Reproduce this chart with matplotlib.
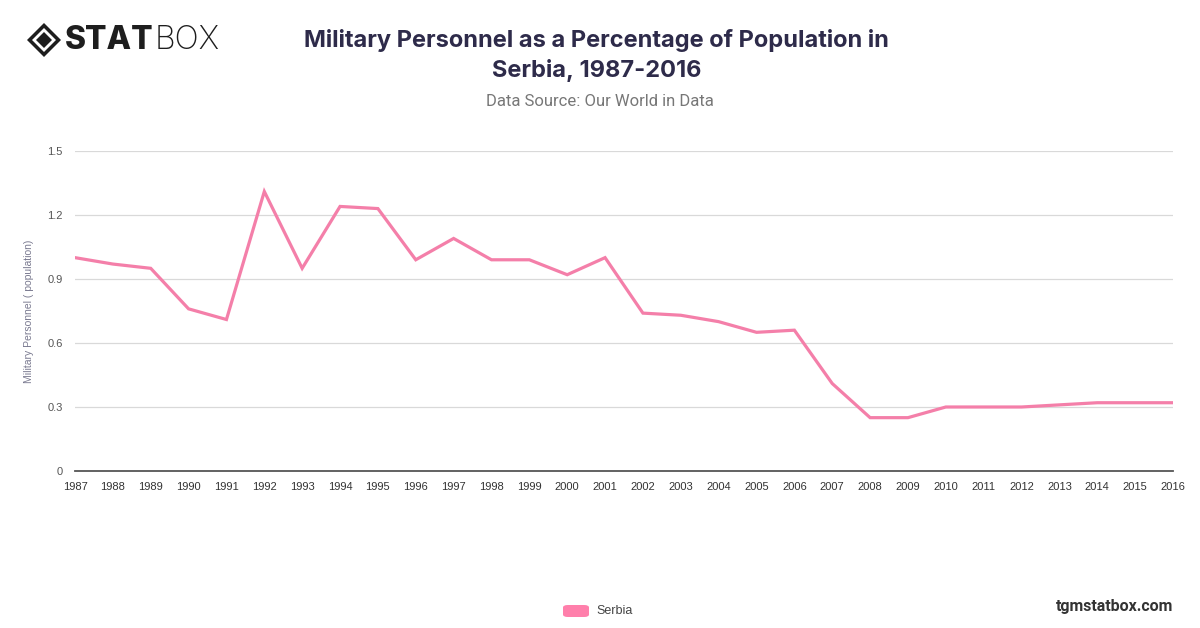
import matplotlib.pyplot as plt
from matplotlib.patches import Polygon, FancyBboxPatch

# data
years = list(range(1987, 2017))
serbia = [1.00, 0.97, 0.95, 0.76, 0.71, 1.31, 0.95, 1.24, 1.23, 0.99,
          1.09, 0.99, 0.99, 0.92, 1.00, 0.74, 0.73, 0.70, 0.65, 0.66,
          0.41, 0.25, 0.25, 0.30, 0.30, 0.30, 0.31, 0.32, 0.32, 0.32]
yticks = [0, 0.3, 0.6, 0.9, 1.2, 1.5]

pink = '#f47fa9'
plt.rcParams['font.family'] = ['Inter', 'DejaVu Sans']

fig = plt.figure(figsize=(12, 6.28), dpi=100)
ax = fig.add_axes([0.0625, 0.25, 0.915, 0.5096])

ax.plot(years, serbia, color=pink, linewidth=2.3, solid_joinstyle='miter')

ax.set_xlim(1987, 2016)
ax.set_ylim(0, 1.5)
ax.set_xticks(years)
ax.set_xticklabels([str(y) for y in years], fontsize=8, color='#333333',
                   family=['Liberation Sans', 'DejaVu Sans'])
ax.set_yticks(yticks)
ax.set_yticklabels(['0', '0.3', '0.6', '0.9', '1.2', '1.5'], fontsize=8,
                   color='#555555', family=['Liberation Sans', 'DejaVu Sans'])
ax.tick_params(axis='x', length=0, pad=8)
ax.tick_params(axis='y', length=0, pad=9)
ax.grid(axis='y', color='#d9d9d9', linewidth=0.9)
ax.set_axisbelow(True)
for s in ['top', 'right', 'left']:
    ax.spines[s].set_visible(False)
ax.spines['bottom'].set_color('#555555')
ax.spines['bottom'].set_linewidth(1.3)

ax.set_ylabel('Military Personnel ( population)', fontsize=7.5, color='#7a7a90',
              family=['Liberation Sans', 'DejaVu Sans'], labelpad=9)

# titles
fig.text(0.497, 0.935, 'Military Personnel as a Percentage of Population in',
         ha='center', va='center', fontsize=17, fontweight='bold', color='#2e2b4a')
fig.text(0.497, 0.887, 'Serbia, 1987-2016',
         ha='center', va='center', fontsize=17, fontweight='bold', color='#2e2b4a')
fig.text(0.5, 0.838, 'Data Source: Our World in Data', ha='center', va='center',
         fontsize=12, color='#777777', family=['Roboto', 'DejaVu Sans'])

# logo
cx, cy = 44 / 1200, 1 - 40 / 628
def diamond(rad, color):
    pts = [(cx - rad / 1200, cy), (cx, cy + rad / 628), (cx + rad / 1200, cy), (cx, cy - rad / 628)]
    fig.patches.append(Polygon(pts, closed=True, transform=fig.transFigure,
                               facecolor=color, edgecolor='none'))
diamond(17, '#1e1e1e')
diamond(12, 'white')
diamond(8, '#1e1e1e')
fig.text(0.054, 0.936, 'STAT', ha='left', va='center', fontsize=23,
         fontweight='heavy', color='#1e1e1e')
fig.text(0.129, 0.936, 'BOX', ha='left', va='center', fontsize=23,
         fontweight='light', color='#1e1e1e')

# legend
fig.patches.append(FancyBboxPatch((563 / 1200, 1 - 617 / 628), 26 / 1200, 12 / 628,
                                  boxstyle='round,pad=0,rounding_size=0.004',
                                  transform=fig.transFigure, facecolor='#ff7fab',
                                  edgecolor='none'))
fig.text(596 / 1200, 1 - 611 / 628, 'Serbia', ha='left', va='center', fontsize=9,
         color='#444444', family=['Liberation Sans', 'DejaVu Sans'])

fig.text(0.978, 1 - 606 / 628, 'tgmstatbox.com', ha='right', va='center',
         fontsize=11.5, fontweight='bold', color='#333333',
         family=['Roboto', 'DejaVu Sans'])

fig.savefig('out.png', dpi=100, facecolor='white')
